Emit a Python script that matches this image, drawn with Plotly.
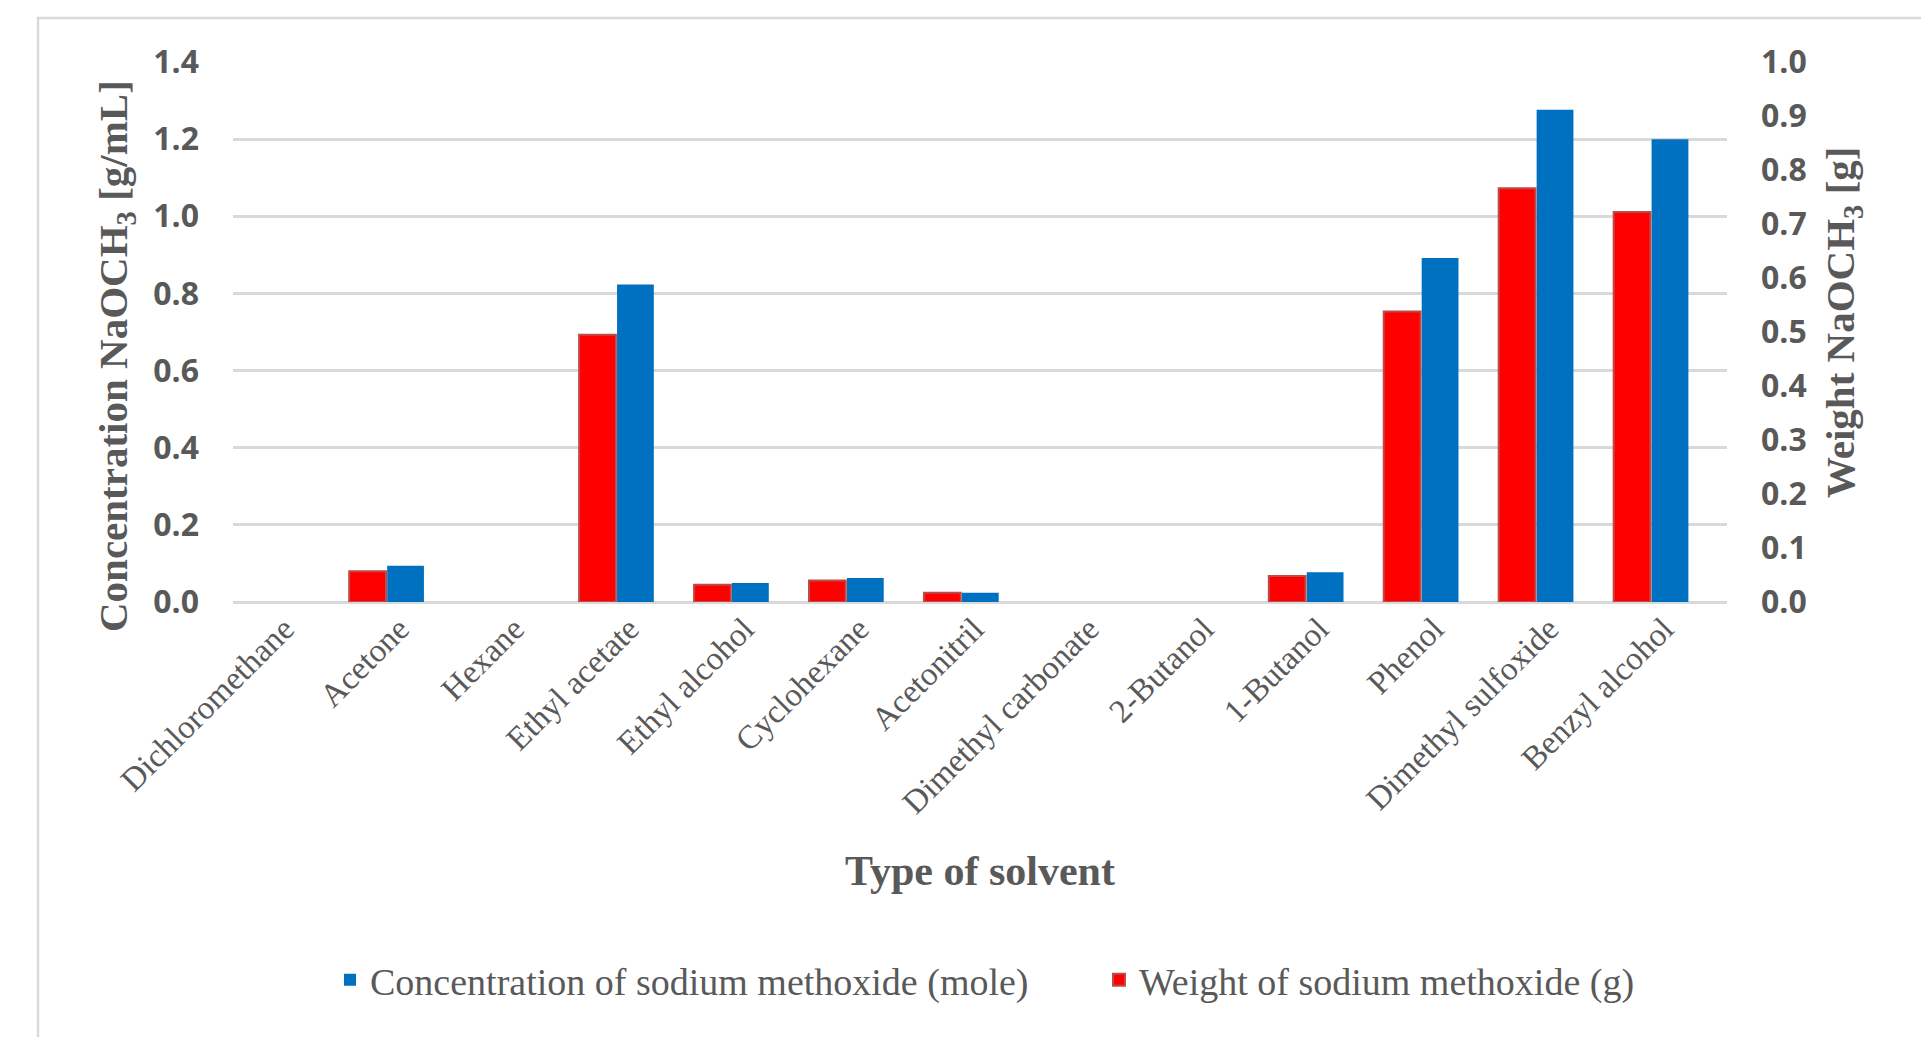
import plotly.graph_objects as go

categories = ["Dichloromethane", "Acetone", "Hexane", "Ethyl acetate", "Ethyl alcohol",
              "Cyclohexane", "Acetonitril", "Dimethyl carbonate", "2-Butanol", "1-Butanol",
              "Phenol", "Dimethyl sulfoxide", "Benzyl alcohol"]
concentration = [0, 0.094, 0, 0.823, 0.049, 0.062, 0.024, 0, 0, 0.077, 0.892, 1.276, 1.200]
weight = [0, 0.057, 0, 0.495, 0.032, 0.040, 0.017, 0, 0, 0.048, 0.538, 0.766, 0.722]
left_ticks = [0.0, 0.2, 0.4, 0.6, 0.8, 1.0, 1.2, 1.4]
right_ticks = [0.0, 0.1, 0.2, 0.3, 0.4, 0.5, 0.6, 0.7, 0.8, 0.9, 1.0]

GRAY = "#595959"
GRID = "#D9D9D9"
SERIF = "Liberation Serif, Times New Roman, serif"
SANS = "Open Sans, Calibri, sans-serif"

# zero values are drawn as no bar at all (as in the reference)
conc_plot = [v if v > 0 else None for v in concentration]
weight_plot = [v if v > 0 else None for v in weight]

fig = go.Figure()
fig.add_trace(go.Bar(
    x=categories, y=conc_plot, name="Concentration of sodium methoxide (mole)",
    marker=dict(color="#0070C0", line=dict(width=0)),
    width=0.32, offset=0.015, yaxis="y", legend="legend",
))
fig.add_trace(go.Bar(
    x=categories, y=weight_plot, name="Weight of sodium methoxide (g)",
    marker=dict(color="#FF0000", line=dict(color="#BE4B48", width=2)),
    width=0.32, offset=-0.315, yaxis="y2", legend="legend2",
))

legend_font = dict(family=SERIF, size=38, color=GRAY)

fig.update_layout(
    width=1921, height=1037,
    margin=dict(l=233, r=194, t=62, b=435, autoexpand=False),
    paper_bgcolor="white", plot_bgcolor="white",
    barmode="overlay",
    showlegend=True,
    legend=dict(orientation="h", xref="container", yref="container",
                x=330 / 1921, xanchor="left", y=1 - 980 / 1037, yanchor="middle",
                font=legend_font, bgcolor="rgba(0,0,0,0)"),
    legend2=dict(orientation="h", xref="container", yref="container",
                 x=1099 / 1921, xanchor="left", y=1 - 980 / 1037, yanchor="middle",
                 font=legend_font, bgcolor="rgba(0,0,0,0)"),
    xaxis=dict(
        type="category", range=[-0.326, 12.671], tickangle=-45,
        tickfont=dict(family=SERIF, size=33, color=GRAY),
        showgrid=False, showline=False, zeroline=False, ticks="",
        ticklabelshift=14,
        title=dict(text="Type of solvent", font=dict(family=SERIF, size=42, color=GRAY, weight=700),
                   standoff=35),
        automargin=False,
    ),
    yaxis=dict(
        range=[0, 1.4], tickvals=left_ticks, tickformat=".1f",
        tickfont=dict(family=SANS, size=32, color=GRAY, weight=700),
        showgrid=True, gridcolor=GRID, gridwidth=2.5,
        zeroline=True, zerolinecolor=GRID, zerolinewidth=2.5,
        showline=False, ticks="", ticklabelstandoff=33,
        automargin=False,
    ),
    yaxis2=dict(
        range=[0, 1.0], tickvals=right_ticks, tickformat=".1f", overlaying="y", side="right",
        tickfont=dict(family=SANS, size=32, color=GRAY, weight=700),
        showgrid=False, zeroline=False, showline=False, ticks="", ticklabelstandoff=33,
        automargin=False,
    ),
    annotations=[
        dict(text="Concentration NaOCH<sub>3</sub> [g/mL]", textangle=-90,
             xref="paper", yref="paper", x=(116 - 233) / 1494, y=(602 - 356) / 540,
             xanchor="center", yanchor="middle", showarrow=False,
             font=dict(family=SERIF, size=41, color=GRAY, weight=700)),
        dict(text="Weight NaOCH<sub>3</sub> [g]", textangle=-90,
             xref="paper", yref="paper", x=(1843 - 233) / 1494, y=(602 - 323) / 540,
             xanchor="center", yanchor="middle", showarrow=False,
             font=dict(family=SERIF, size=41, color=GRAY, weight=700)),
    ],
    shapes=[dict(type="rect", xref="paper", yref="paper",
                 x0=(38 - 233) / 1494, x1=2.0, y0=-2.0, y1=(602 - 18) / 540,
                 line=dict(color=GRID, width=2.5), fillcolor="rgba(0,0,0,0)", layer="below")],
)

fig.write_html("out.html")
